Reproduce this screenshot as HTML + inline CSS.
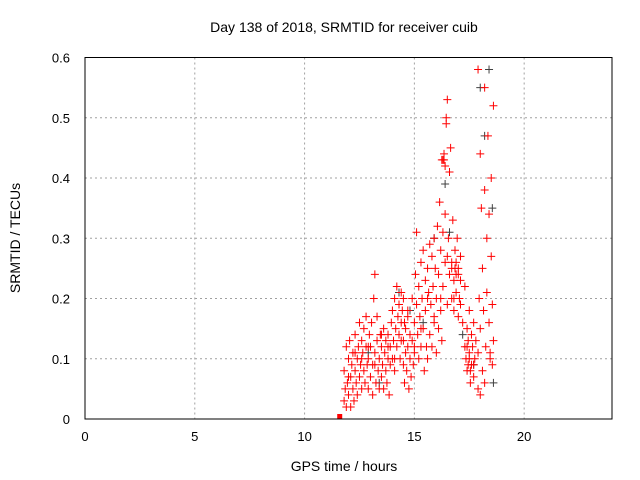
<!DOCTYPE html>
<html><head><meta charset="utf-8"><style>
body{margin:0;background:#fff}
svg{display:block;font-family:"Liberation Sans",sans-serif}
</style></head><body>
<svg id="chart" width="640" height="480" viewBox="0 0 640 480" xmlns="http://www.w3.org/2000/svg">
<rect width="640" height="480" fill="#fff"/>
<text x="344" y="32" font-size="14" text-anchor="middle">Day 138 of 2018, SRMTID for receiver cuib</text>
<g id="grid"></g>
<g id="ticks"></g>
<g id="marks"></g>
<rect x="85" y="57.5" width="527" height="361.5" fill="none" stroke="#000" stroke-width="1"/>
<text x="344" y="471" font-size="14" text-anchor="middle">GPS time / hours</text>
<text x="20" y="238" font-size="14" text-anchor="middle" transform="rotate(-90 20 238)">SRMTID / TECUs</text>
</svg>
<script>
const xTicks=[0,5,10,15,20];
const yTicks=[0,0.1,0.2,0.3,0.4,0.5,0.6];
const yTickLabels=["0","0.1","0.2","0.3","0.4","0.5","0.6"];
const redX=[
11.8,11.8,11.85,11.9,11.9,11.95,12.0,12.0,12.05,12.1,
12.1,12.15,12.2,12.2,12.25,12.3,12.3,12.35,12.4,12.4,
12.45,12.5,12.5,12.55,12.6,12.6,12.65,12.7,12.7,12.75,
12.8,12.8,12.85,12.9,12.9,12.95,13.0,13.0,13.05,13.1,
13.1,13.15,13.2,13.2,13.25,13.3,13.3,13.35,13.4,13.4,
13.45,13.5,13.5,13.55,13.6,13.6,13.65,13.7,13.7,13.75,
13.8,13.8,13.85,13.9,13.9,13.95,14.0,14.0,14.05,14.1,
14.1,14.15,14.2,14.2,14.25,14.3,14.3,14.35,14.4,14.4,
14.5,14.5,14.55,14.6,14.6,14.65,14.7,14.7,14.75,14.8,
14.8,14.85,14.9,14.9,14.95,15.0,15.0,15.05,15.1,15.1,
15.15,15.2,15.2,15.25,15.3,15.3,15.35,15.4,15.4,15.45,
15.5,15.5,15.55,15.6,15.6,15.65,15.7,15.7,15.75,15.8,
15.8,15.85,15.9,15.9,15.95,16.0,16.0,16.05,16.1,16.1,
16.15,16.2,16.2,16.25,16.3,16.3,16.35,16.4,16.4,16.45,
16.5,16.5,16.55,16.6,16.6,16.65,16.7,16.7,16.75,16.8,
16.8,16.85,16.9,16.9,16.95,17.0,17.0,17.05,17.1,17.1,
17.2,17.3,17.3,17.35,17.4,17.4,17.45,17.5,17.5,17.55,
17.6,17.6,17.65,17.7,17.7,17.75,17.8,17.9,17.9,17.95,
18.0,18.0,18.05,18.1,18.1,18.15,18.2,18.2,18.25,18.3,
18.3,18.35,18.4,18.4,18.45,18.5,18.5,18.55,18.6,18.6,
16.3,16.35,16.4,16.45,16.25,17.9,18.0,18.2,18.45,18.55,
12.0,12.3,12.6,12.9,13.2,13.5,13.8,14.1,14.4,14.7,
15.0,15.3,15.6,15.9,16.2,16.5,16.8,17.1,17.4,17.7,
14.45,14.5,14.55,16.85,16.9,17.0,16.7,17.45,17.5,17.55];
const redY=[
0.03,0.08,0.05,0.12,0.02,0.06,0.10,0.04,0.13,0.07,
0.02,0.09,0.05,0.11,0.03,0.08,0.14,0.06,0.10,0.04,
0.12,0.16,0.07,0.09,0.13,0.05,0.11,0.15,0.08,0.06,
0.12,0.17,0.09,0.10,0.05,0.14,0.07,0.12,0.16,0.09,
0.04,0.20,0.24,0.11,0.06,0.13,0.17,0.08,0.10,0.05,
0.14,0.12,0.07,0.09,0.15,0.05,0.11,0.08,0.13,0.06,
0.10,0.14,0.04,0.12,0.09,0.16,0.18,0.10,0.13,0.20,
0.08,0.15,0.22,0.12,0.17,0.14,0.19,0.10,0.16,0.21,
0.09,0.13,0.06,0.11,0.15,0.08,0.12,0.18,0.05,0.10,
0.14,0.07,0.13,0.20,0.09,0.16,0.11,0.24,0.31,0.19,
0.14,0.22,0.10,0.17,0.26,0.12,0.20,0.28,0.15,0.08,
0.23,0.18,0.12,0.25,0.10,0.21,0.29,0.14,0.19,0.27,
0.12,0.22,0.30,0.17,0.25,0.11,0.20,0.32,0.15,0.24,
0.36,0.18,0.28,0.13,0.31,0.22,0.43,0.34,0.26,0.49,
0.19,0.53,0.30,0.41,0.24,0.45,0.20,0.26,0.33,0.23,
0.18,0.28,0.24,0.21,0.30,0.17,0.25,0.20,0.27,0.19,
0.16,0.22,0.12,0.10,0.15,0.08,0.13,0.18,0.11,0.06,
0.14,0.09,0.12,0.16,0.07,0.10,0.13,0.05,0.11,0.20,
0.44,0.15,0.35,0.08,0.25,0.18,0.55,0.38,0.12,0.30,
0.21,0.47,0.16,0.34,0.10,0.27,0.40,0.19,0.52,0.13,
0.43,0.44,0.42,0.50,0.43,0.58,0.04,0.06,0.11,0.09,
0.07,0.11,0.10,0.12,0.09,0.14,0.12,0.10,0.13,0.17,
0.12,0.15,0.20,0.16,0.20,0.27,0.20,0.23,0.12,0.09,
0.18,0.20,0.16,0.25,0.26,0.24,0.25,0.09,0.10,0.08];
const grayX=[12.9,13.4,14.3,14.8,15.4,15.9,16.4,16.6,17.2,17.7,18.0,18.2,18.4,18.55,18.6];
const grayY=[0.11,0.06,0.21,0.18,0.16,0.30,0.39,0.31,0.14,0.09,0.55,0.47,0.58,0.35,0.06];
const xs=h=>85+h*(527/24);
const ys=v=>419-v*(361.5/0.6);
const NS="http://www.w3.org/2000/svg";
const grid=document.getElementById('grid'),ticks=document.getElementById('ticks'),marks=document.getElementById('marks');
function mk(tag,attrs,parent){const e=document.createElementNS(NS,tag);for(const k in attrs)e.setAttribute(k,attrs[k]);parent.appendChild(e);return e;}
xTicks.forEach(t=>{const x=xs(t);
 if(t>0){const g=mk('line',{x1:x,x2:x,y1:57.5,y2:419,stroke:'#a0a0a0','stroke-dasharray':'2,3'},grid);
 
 }
 const l=mk('text',{x:x,y:441,'font-size':13,'text-anchor':'middle'},ticks);l.textContent=t;
 
 
});
yTicks.forEach((t,i)=>{const y=ys(t);
 if(t>0&&t<0.6){const g=mk('line',{x1:85,x2:612,y1:y,y2:y,stroke:'#a0a0a0','stroke-dasharray':'2,3'},grid);
 
 }
 const l=mk('text',{x:70,y:y+5,'font-size':13,'text-anchor':'end'},ticks);l.textContent=yTickLabels[i];
 
 
});
function plus(h,v,c){const x=xs(h),y=ys(v);
 const p=mk('path',{d:`M${x-4},${y}H${x+4}M${x},${y-4}V${y+4}`,stroke:c,'stroke-width':1},marks);
 
 }
grayX.forEach((h,i)=>plus(h,grayY[i],'#404040'));
redX.forEach((h,i)=>plus(h,redY[i],'#ff0000'));
const sq=mk('rect',{x:xs(11.6)-2.5,y:ys(0)-5,width:5,height:5,fill:'#ff0000'},marks);


</script>
</body></html>
